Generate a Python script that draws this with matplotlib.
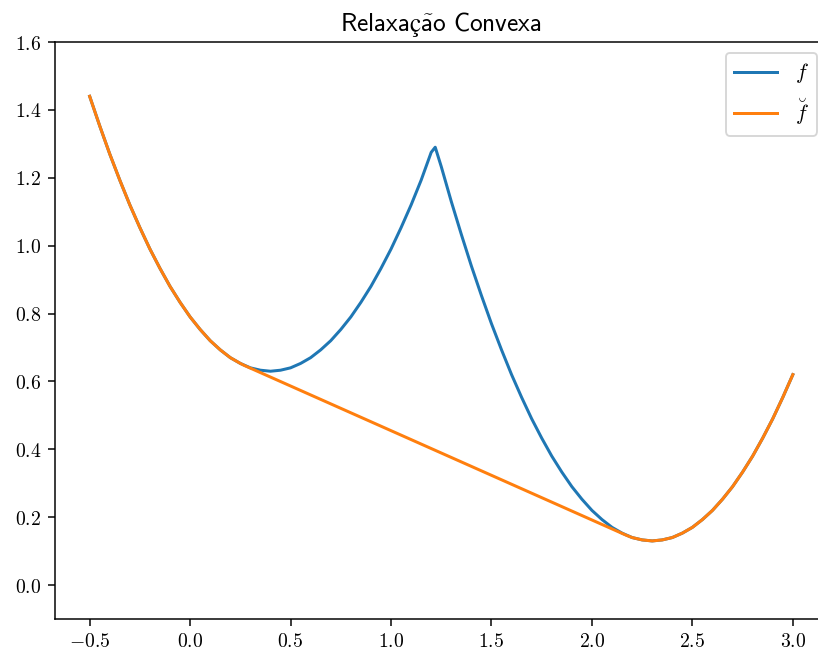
import matplotlib
matplotlib.use("Agg")
import matplotlib.pyplot as plt

plt.rcParams["mathtext.fontset"] = "cm"

# f: two parabolic branches meeting at a cusp near x = 1.22
x_f = [-0.5, -0.45, -0.4, -0.35, -0.3, -0.25, -0.2, -0.15, -0.1, -0.05,
       0.0, 0.05, 0.1, 0.15, 0.2, 0.25, 0.3, 0.35, 0.4, 0.45,
       0.5, 0.55, 0.6, 0.65, 0.7, 0.75, 0.8, 0.85, 0.9, 0.95,
       1.0, 1.05, 1.1, 1.15, 1.2, 1.22, 1.25, 1.3, 1.35, 1.4,
       1.45, 1.5, 1.55, 1.6, 1.65, 1.7, 1.75, 1.8, 1.85, 1.9,
       1.95, 2.0, 2.05, 2.1, 2.15, 2.2, 2.25, 2.3, 2.35, 2.4,
       2.45, 2.5, 2.55, 2.6, 2.65, 2.7, 2.75, 2.8, 2.85, 2.9,
       2.95, 3.0]
y_f = [1.44, 1.353, 1.27, 1.193, 1.12, 1.053, 0.99, 0.933, 0.88, 0.833,
       0.79, 0.753, 0.72, 0.693, 0.67, 0.653, 0.64, 0.633, 0.63, 0.633,
       0.64, 0.653, 0.67, 0.693, 0.72, 0.753, 0.79, 0.833, 0.88, 0.933,
       0.99, 1.053, 1.12, 1.193, 1.275, 1.29, 1.233, 1.13, 1.033, 0.94,
       0.853, 0.77, 0.693, 0.62, 0.553, 0.49, 0.433, 0.38, 0.333, 0.29,
       0.253, 0.22, 0.193, 0.17, 0.153, 0.14, 0.133, 0.13, 0.133, 0.14,
       0.153, 0.17, 0.193, 0.22, 0.253, 0.29, 0.333, 0.38, 0.433, 0.49,
       0.553, 0.62]

# convex envelope: left branch, common tangent segment, right branch
x_env = [-0.5, -0.45, -0.4, -0.35, -0.3, -0.25, -0.2, -0.15, -0.1, -0.05,
         0.0, 0.05, 0.1, 0.15, 0.2, 0.25, 0.27, 2.17, 2.2, 2.25,
         2.3, 2.35, 2.4, 2.45, 2.5, 2.55, 2.6, 2.65, 2.7, 2.75,
         2.8, 2.85, 2.9, 2.95, 3.0]
y_env = [1.44, 1.353, 1.27, 1.193, 1.12, 1.053, 0.99, 0.933, 0.88, 0.833,
         0.79, 0.753, 0.72, 0.693, 0.67, 0.653, 0.647, 0.147, 0.14, 0.133,
         0.13, 0.133, 0.14, 0.153, 0.17, 0.193, 0.22, 0.253, 0.29, 0.333,
         0.38, 0.433, 0.49, 0.553, 0.62]

x_ticks = [-0.5, 0.0, 0.5, 1.0, 1.5, 2.0, 2.5, 3.0]
x_tick_labels = ["$-0.5$", "$0.0$", "$0.5$", "$1.0$", "$1.5$", "$2.0$", "$2.5$", "$3.0$"]
y_ticks = [0.0, 0.2, 0.4, 0.6, 0.8, 1.0, 1.2, 1.4, 1.6]
y_tick_labels = ["$0.0$", "$0.2$", "$0.4$", "$0.6$", "$0.8$", "$1.0$", "$1.2$", "$1.4$", "$1.6$"]

DPI = 135
fig = plt.figure(figsize=(818 / DPI, 654 / DPI), dpi=DPI)
left, right, bottom, top = 54.5 / 818, 828 / 818, 35 / 654, 612 / 654
ax = fig.add_axes([left, bottom, right - left, top - bottom])

ax.plot(x_f, y_f, color="#1f77b4", lw=1.6, label="$f$")
ax.plot(x_env, y_env, color="#ff7f0e", lw=1.6, label=r"$\breve{f}$")

ax.set_xlim(-0.675, 3.175)
ax.set_ylim(-0.1, 1.6)
ax.set_xticks(x_ticks)
ax.set_xticklabels(x_tick_labels, fontsize=10.5)
ax.set_yticks(y_ticks)
ax.set_yticklabels(y_tick_labels, fontsize=10.5)
ax.spines["right"].set_visible(False)

ax.set_title(r"$\mathsf{Relaxaç\tilde{a}o\ Convexa}$", fontsize=13.5)
ax.legend(loc="upper right", fontsize=11.5)

fig.savefig("out.png", dpi=DPI)
